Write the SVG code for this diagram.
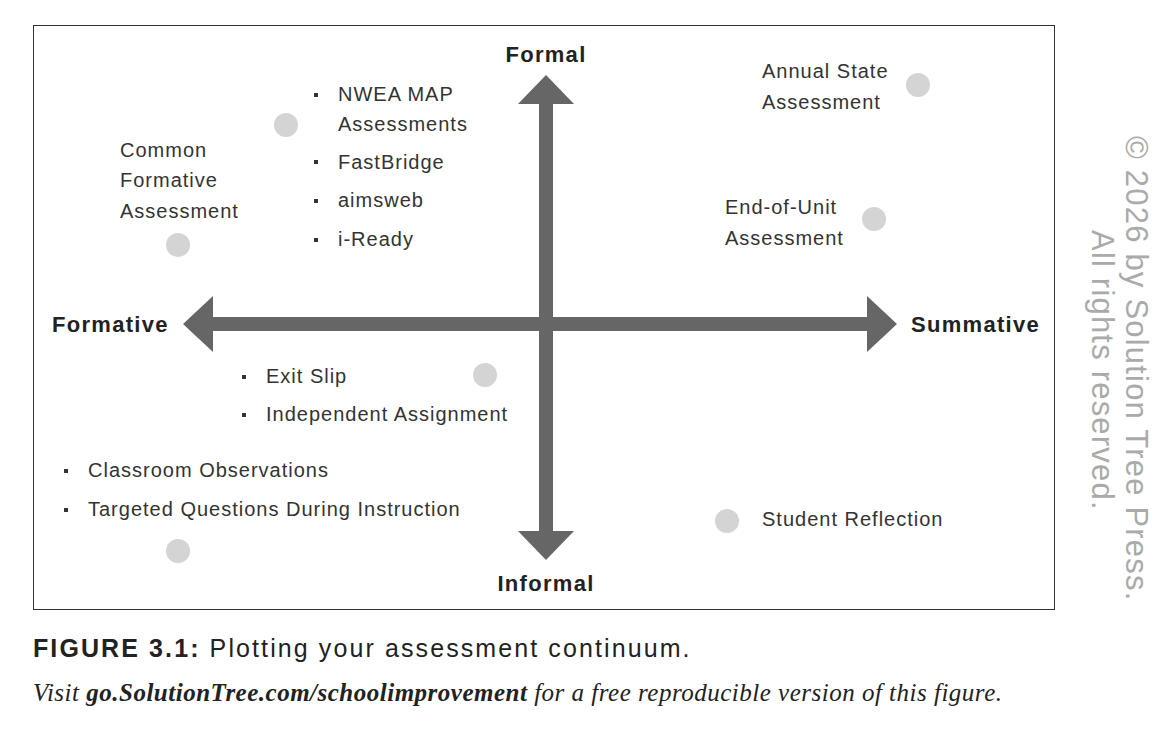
<svg xmlns="http://www.w3.org/2000/svg" width="1171" height="739" viewBox="0 0 1171 739">
<style>
.t{font-family:"Liberation Sans",Arial,sans-serif;font-size:20px;fill:#333;letter-spacing:1px}
.b{font-family:"Liberation Sans",Arial,sans-serif;font-size:22px;font-weight:bold;fill:#222;letter-spacing:1.3px}
.d{fill:#d4d4d4}
.bul{fill:#333}
</style>
<rect width="1171" height="739" fill="#fff"/>
<rect x="33.5" y="25.5" width="1021" height="584" fill="none" stroke="#333" stroke-width="1"/>
<g id="connectors" fill="#666">
<polygon points="183,324 213,296 213,317 867,317 867,296 897,324 867,352 867,331 213,331 213,352"/>
<polygon points="546,75 574,104 553,104 553,531 574,531 546,560 518,531 539,531 539,104 518,104"/>
</g>
<g id="axis-labels">
<text class="b" x="546" y="62" text-anchor="middle">Formal</text>
<text class="b" x="546" y="591" text-anchor="middle">Informal</text>
<text class="b" x="52" y="332">Formative</text>
<text class="b" x="911" y="332">Summative</text>
</g>
<g id="n-common"><text class="t" x="120" y="157">Common</text><text class="t" x="120" y="187">Formative</text><text class="t" x="120" y="218">Assessment</text><circle class="d" cx="178" cy="245" r="12"/></g>
<g id="n-nwea"><circle class="d" cx="286" cy="125" r="12"/>
<rect class="bul" x="314" y="93" width="4" height="4"/><text class="t" x="338" y="101">NWEA MAP</text><text class="t" x="338" y="131">Assessments</text>
<rect class="bul" x="314" y="160" width="4" height="4"/><text class="t" x="338" y="169">FastBridge</text>
<rect class="bul" x="314" y="199" width="4" height="4"/><text class="t" x="338" y="207">aimsweb</text>
<rect class="bul" x="314" y="238" width="4" height="4"/><text class="t" x="338" y="246">i-Ready</text></g>
<g id="n-annual"><text class="t" x="762" y="78">Annual State</text><text class="t" x="762" y="109">Assessment</text><circle class="d" cx="918" cy="85" r="12"/></g>
<g id="n-unit"><text class="t" x="725" y="214">End-of-Unit</text><text class="t" x="725" y="245">Assessment</text><circle class="d" cx="874" cy="219" r="12"/></g>
<g id="n-exit"><rect class="bul" x="242" y="375" width="4" height="4"/><text class="t" x="266" y="383">Exit Slip</text>
<rect class="bul" x="242" y="413" width="4" height="4"/><text class="t" x="266" y="421">Independent Assignment</text><circle class="d" cx="485" cy="375" r="12"/></g>
<g id="n-class"><rect class="bul" x="64" y="469" width="4" height="4"/><text class="t" x="88" y="477">Classroom Observations</text>
<rect class="bul" x="64" y="508" width="4" height="4"/><text class="t" x="88" y="516">Targeted Questions During Instruction</text><circle class="d" cx="178" cy="551" r="12"/></g>
<g id="n-reflect"><circle class="d" cx="727" cy="521" r="12"/><text class="t" x="762" y="526">Student Reflection</text></g>
<g font-family="Liberation Sans,Arial,sans-serif" font-size="31" fill="#aaa" letter-spacing="1.2">
<text transform="translate(1126,136) rotate(90)">© 2026 by Solution Tree Press.</text>
<text transform="translate(1092,230) rotate(90)">All rights reserved.</text>
</g>
<text x="33" y="657" font-family="Liberation Sans,Arial,sans-serif" font-size="25" fill="#222" letter-spacing="2.1"><tspan font-weight="bold">FIGURE 3.1:</tspan> Plotting your assessment continuum.</text>
<text x="33" y="701" font-family="Liberation Serif,serif" font-size="25" font-style="italic" fill="#222" letter-spacing="0.5">Visit <tspan font-weight="bold">go.SolutionTree.com/schoolimprovement</tspan> for a free reproducible version of this figure.</text>
</svg>
